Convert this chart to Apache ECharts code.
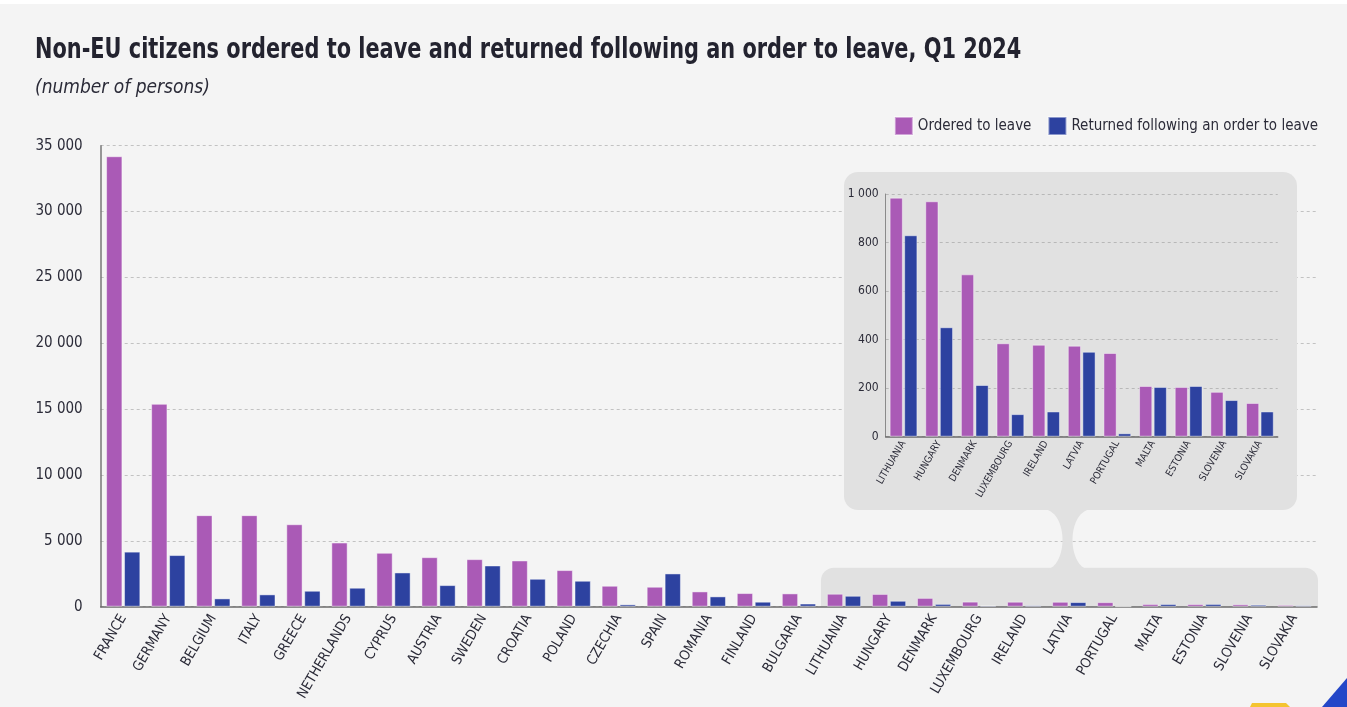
<!DOCTYPE html>
<html><head><meta charset="utf-8">
<script src="https://cdn.jsdelivr.net/npm/echarts@6/dist/echarts.min.js"></script>
<style>html,body{margin:0;padding:0;background:#f4f4f4}#c{width:1347px;height:707px}</style>
</head><body><div id="c"></div>
<script>
const categories = ['FRANCE','GERMANY','BELGIUM','ITALY','GREECE','NETHERLANDS','CYPRUS','AUSTRIA','SWEDEN','CROATIA','POLAND','CZECHIA','SPAIN','ROMANIA','FINLAND','BULGARIA','LITHUANIA','HUNGARY','DENMARK','LUXEMBOURG','IRELAND','LATVIA','PORTUGAL','MALTA','ESTONIA','SLOVENIA','SLOVAKIA'];
const orderedToLeave = [34200,15400,6950,6950,6260,4870,4090,3760,3610,3510,2780,1590,1515,1160,1035,1010,985,970,669,385,379,375,345,209,205,185,139];
const returnedAfterOrder = [4180,3920,630,935,1210,1440,2600,1640,3130,2120,1970,177,2525,783,379,240,830,451,213,93,104,350,14,205,209,151,104];
const insetFirst = 'LITHUANIA';
const mainTicks = {min:0, max:35000, interval:5000};
const insetTicks = {min:0, max:1000, interval:200};
const seriesNames = ['Ordered to leave','Returned following an order to leave'];
const titleText = 'Non-EU citizens ordered to leave and returned following an order to leave, Q1 2024';
const subtitleText = '(number of persons)';

const insetIdx = categories.indexOf(insetFirst);
const insetCategories = categories.slice(insetIdx);
const insetOrdered = orderedToLeave.slice(insetIdx);
const insetReturned = returnedAfterOrder.slice(insetIdx);

const FONT = "'Liberation Sans Narrow', 'DejaVu Sans Condensed', 'Noto Sans', sans-serif";
const TXT = '#2b2b38';
const PURPLE = '#aa5ab6';
const BLUE = '#2d42a0';
const BOXC = '#e1e1e1';
const fmt = v => String(v).replace(/\B(?=(\d{3})+(?!\d))/g, ' ');

const chart = echarts.init(document.getElementById('c'), null, {renderer:'canvas'});
const barStyle = c => ({color:c, borderColor:'rgba(255,255,255,0.45)', borderWidth:1});

const option = {
  backgroundColor:'#f4f4f4',
  animation:false,
  textStyle:{fontFamily:FONT},
  legend:{
    right:24, top:111, icon:'rect', itemWidth:18, itemHeight:18, itemGap:16,
    textStyle:{fontFamily:FONT, fontSize:15, color:TXT},
    data:seriesNames
  },
  grid:[
    {left:100.7, right:30, top:145.7, bottom:100.3, containLabel:false},
    {left:885.7, right:69.3, top:194, bottom:270.3, containLabel:false}
  ],
  xAxis:[
    {type:'category', gridIndex:0, data:categories, z:3,
     axisLine:{lineStyle:{color:'#6b6b6b', width:1.5}},
     axisTick:{inside:true, length:11, lineStyle:{color:'#777'}},
     axisLabel:{rotate:60, fontSize:14, color:TXT, fontFamily:FONT, margin:9, interval:0}},
    {type:'category', gridIndex:1, data:insetCategories, z:4,
     axisLine:{lineStyle:{color:'#6b6b6b', width:1.5}},
     axisTick:{inside:true, length:5, lineStyle:{color:'#777'}},
     axisLabel:{rotate:60, fontSize:10, color:TXT, fontFamily:FONT, margin:5, interval:0}}
  ],
  yAxis:[
    {type:'value', gridIndex:0, min:mainTicks.min, max:mainTicks.max, interval:mainTicks.interval, z:0,
     axisLine:{show:true, lineStyle:{color:'#777', width:1.5}},
     axisTick:{show:false},
     splitLine:{lineStyle:{color:'#c2c2c2', type:[3,3]}},
     axisLabel:{fontSize:15, color:TXT, fontFamily:FONT, margin:18, formatter:fmt}},
    {type:'value', gridIndex:1, min:insetTicks.min, max:insetTicks.max, interval:insetTicks.interval, z:4,
     axisLine:{show:true, lineStyle:{color:'#8a8a8a', width:1}},
     axisTick:{show:false},
     splitLine:{lineStyle:{color:'#b8b8b8', type:[3,3]}},
     axisLabel:{fontSize:12, color:TXT, fontFamily:FONT, margin:7, formatter:fmt}}
  ],
  series:[
    {name:seriesNames[0], type:'bar', xAxisIndex:0, yAxisIndex:0, data:orderedToLeave, barGap:'10%', barCategoryGap:'24%', itemStyle:barStyle(PURPLE), z:5},
    {name:seriesNames[1], type:'bar', xAxisIndex:0, yAxisIndex:0, data:returnedAfterOrder, barGap:'10%', barCategoryGap:'24%', itemStyle:barStyle(BLUE), z:5},
    {name:seriesNames[0], type:'bar', xAxisIndex:1, yAxisIndex:1, data:insetOrdered, barGap:'10%', barCategoryGap:'22%', itemStyle:barStyle(PURPLE), z:5},
    {name:seriesNames[1], type:'bar', xAxisIndex:1, yAxisIndex:1, data:insetReturned, barGap:'10%', barCategoryGap:'22%', itemStyle:barStyle(BLUE), z:5}
  ]
};
chart.setOption(option);

// decorations computed from the axes
const c0 = chart.convertToPixel({xAxisIndex:0}, insetFirst);
const c1 = chart.convertToPixel({xAxisIndex:0}, categories[insetIdx+1]);
const band = c1 - c0;
const lowLeft = c0 - band/2 - 0.5;
const lowRight = 1347 - 30 + 1;
const zeroY = chart.convertToPixel({yAxisIndex:0}, 0);
const lowTop = zeroY - 39;
const boxL = 844, boxR = 1297, boxT = 172, boxB = 510;
const cx = (boxL + boxR)/2 - 3;
const neckY = (boxB + lowTop)/2 + 1;
const hb = (lowTop - boxB)/2 + 1, ha = 17, neck = 5;
const leftPts = [], rightPts = [];
for (let i = 0; i <= 24; i++) {
  const y = boxB - 4 + (lowTop + 8 - boxB) * i / 24;
  let d = (y - neckY) / hb; d = Math.max(-1, Math.min(1, d));
  const w = neck + ha - ha * Math.sqrt(1 - d*d);
  leftPts.push([cx - w, y]);
  rightPts.unshift([cx + w, y]);
}
const connector = leftPts.concat(rightPts);

chart.setOption({
  graphic:[
    {type:'rect', z:1, silent:true, shape:{x:0, y:0, width:1347, height:4}, style:{fill:'#ffffff'}},
    {type:'rect', z:1, silent:true, shape:{x:boxL, y:boxT, width:boxR-boxL, height:boxB-boxT, r:14}, style:{fill:BOXC}},
    {type:'rect', z:1, silent:true, shape:{x:lowLeft, y:lowTop, width:lowRight-lowLeft, height:zeroY-lowTop, r:[13,13,0,0]}, style:{fill:BOXC}},
    {type:'polygon', z:1, silent:true, shape:{points:connector}, style:{fill:BOXC}},
    {type:'polygon', z:1, silent:true, shape:{points:[[1322,707],[1347,678],[1347,707]]}, style:{fill:'#2447c8'}},
    {type:'polygon', z:1, silent:true, shape:{points:[[1252,703],[1286,703],[1290,707],[1250,707]]}, style:{fill:'#f4c430'}},
    {type:'text', z:10, x:35, y:36, scaleX:0.8, style:{text:titleText, font:"bold 29px " + FONT, fill:'#23232f', verticalAlign:'top'}},
    {type:'text', z:10, x:35, y:79, style:{text:subtitleText, font:"italic 19px " + FONT, fill:TXT, verticalAlign:'top'}}
  ]
});
</script></body></html>
